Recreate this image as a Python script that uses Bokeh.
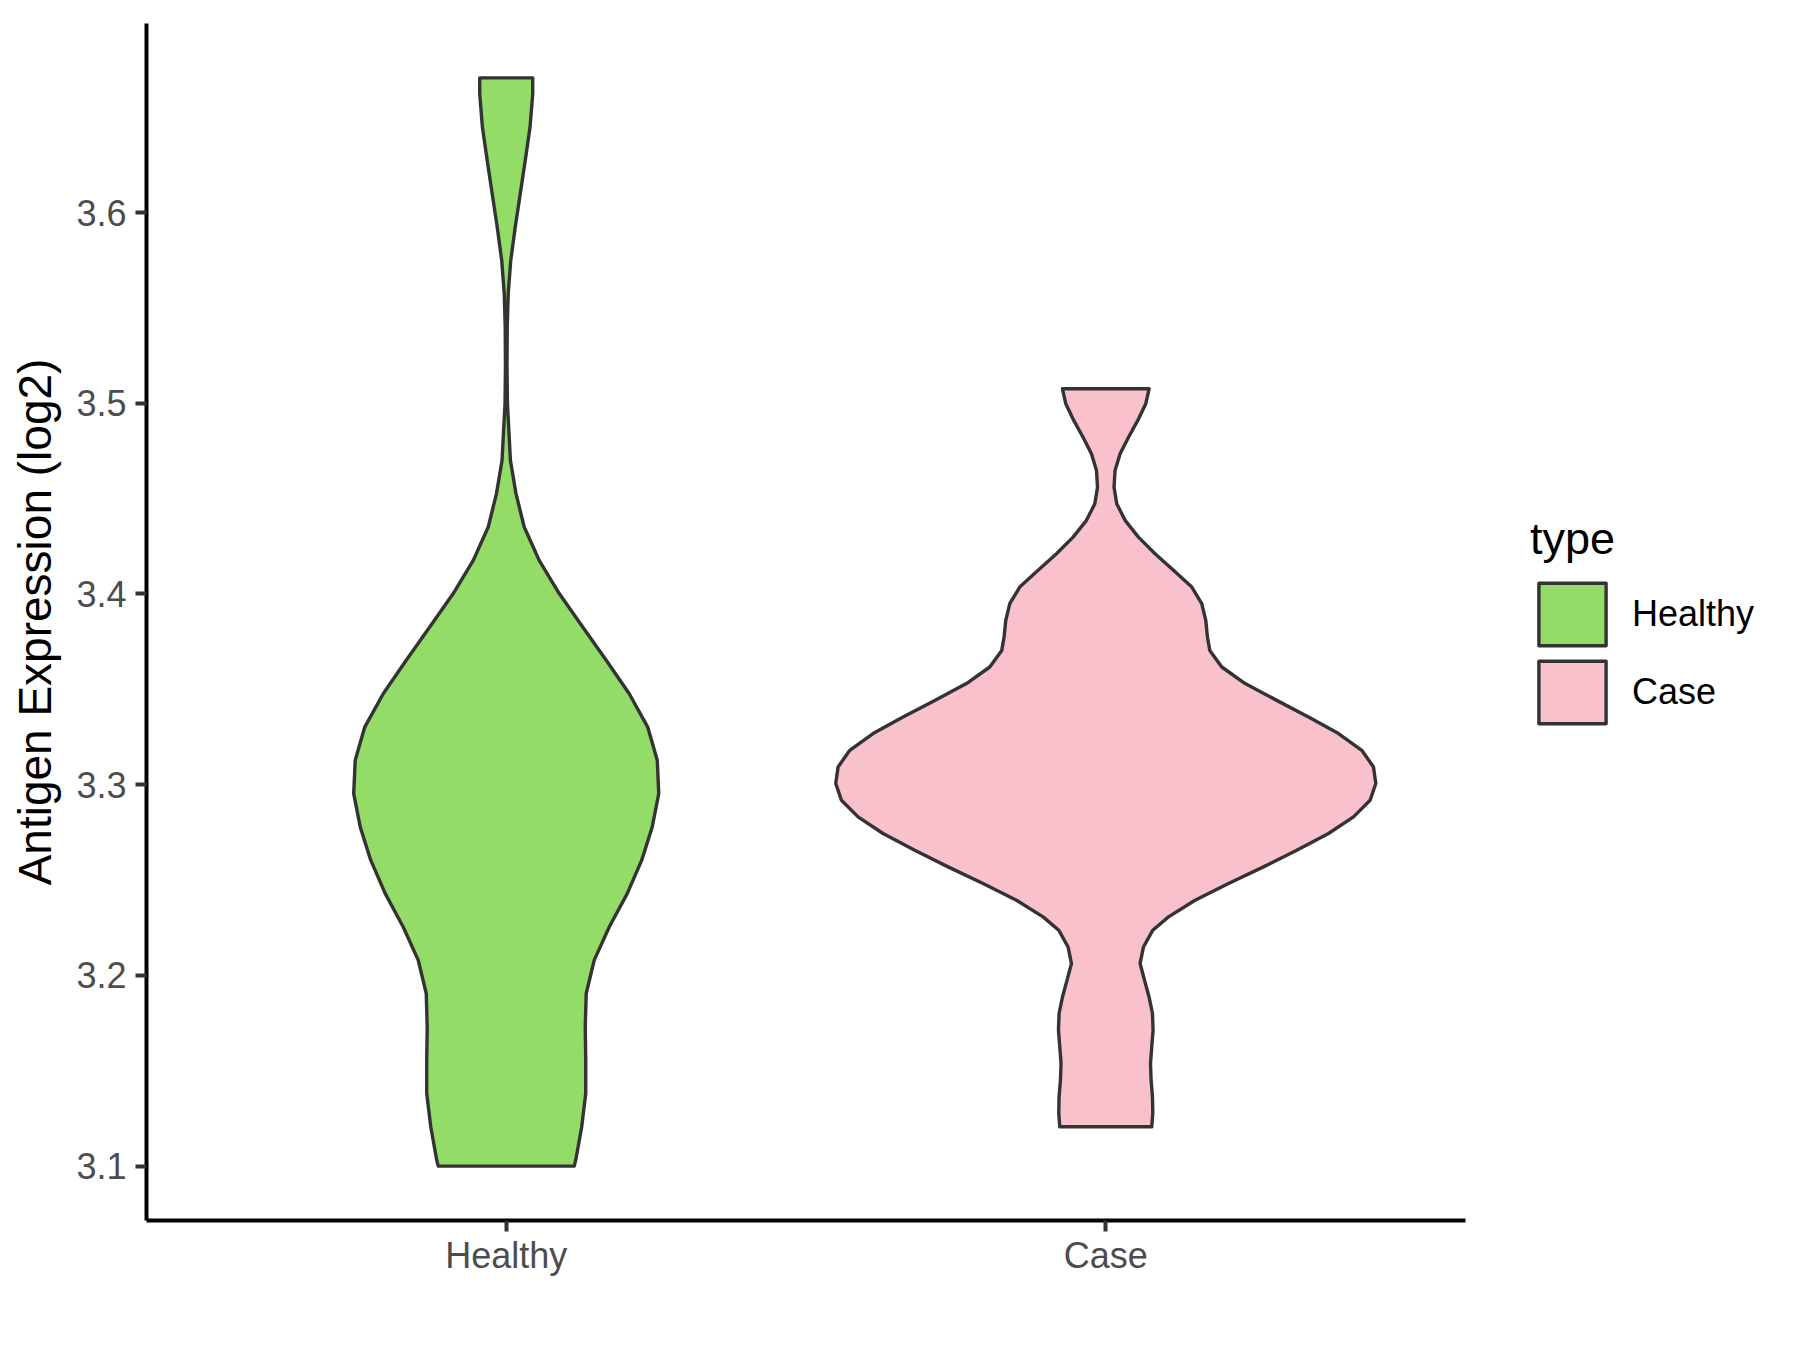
from bokeh.plotting import figure
from bokeh.models import Range1d, FixedTicker, Legend, LegendItem
from bokeh.embed import file_html
from bokeh.resources import INLINE

# ---- data ----
categories = ["Healthy", "Case"]
colors = ["#93DC68", "#F8C1CC"]
y_ticks = [3.1, 3.2, 3.3, 3.4, 3.5, 3.6]

healthy_y = [3.6706, 3.6622, 3.6447, 3.6273, 3.6098, 3.5923, 3.5748, 3.5574, 3.5400,
             3.5200, 3.5000, 3.4850, 3.4700, 3.4526, 3.4351, 3.4176, 3.4002, 3.3827,
             3.3652, 3.3477, 3.3302, 3.3128, 3.2953, 3.2778, 3.2604, 3.2429, 3.2254,
             3.2080, 3.1905, 3.1730, 3.1556, 3.1381, 3.1206, 3.1031, 3.1000]
healthy_w = [0.0442, 0.0442, 0.0397, 0.0317, 0.0234, 0.0150, 0.0075, 0.0033, 0.0017,
             0.0013, 0.0020, 0.0045, 0.0070, 0.0163, 0.0300, 0.0550, 0.0884, 0.1276,
             0.1668, 0.2052, 0.2360, 0.2519, 0.2544, 0.2435, 0.2260, 0.2018, 0.1718,
             0.1468, 0.1334, 0.1318, 0.1326, 0.1326, 0.1259, 0.1159, 0.1134]

case_y = [3.5076, 3.4997, 3.4910, 3.4822, 3.4735, 3.4648, 3.4560, 3.4473, 3.4386,
          3.4298, 3.4211, 3.4124, 3.4036, 3.3949, 3.3862, 3.3774, 3.3704, 3.3617,
          3.3530, 3.3442, 3.3355, 3.3268, 3.3180, 3.3093, 3.3006, 3.2918, 3.2831,
          3.2744, 3.2656, 3.2569, 3.2482, 3.2394, 3.2307, 3.2237, 3.2149, 3.2062,
          3.1975, 3.1887, 3.1800, 3.1713, 3.1625, 3.1538, 3.1451, 3.1363, 3.1276, 3.1206]
case_w = [0.0722, 0.0667, 0.0534, 0.0379, 0.0239, 0.0155, 0.0138, 0.0183, 0.0322,
          0.0545, 0.0822, 0.1129, 0.1435, 0.1601, 0.1668, 0.1696, 0.1735, 0.1935,
          0.2324, 0.2852, 0.3381, 0.3882, 0.4270, 0.4465, 0.4504, 0.4409, 0.4132,
          0.3715, 0.3186, 0.2631, 0.2047, 0.1490, 0.1046, 0.0784, 0.0629, 0.0572,
          0.0646, 0.0722, 0.0779, 0.0789, 0.0767, 0.0746, 0.0756, 0.0779, 0.0784, 0.0767]

profiles = [(healthy_y, healthy_w), (case_y, case_w)]

FONT = "Liberation Sans"

all_y = healthy_y + case_y
ymin, ymax = min(all_y), max(all_y)
pad = 0.05 * (ymax - ymin)

# panel geometry: axis area is 1319 px wide; the frame is extended to the right
# so that the legend sits inside it (x-axis line limited with bounds)
AXIS_W = 1319
FRAME_W = 1638
x0, x1 = 0.4, len(categories) + 0.6
x_end = x0 + (x1 - x0) * FRAME_W / AXIS_W

p = figure(frame_width=FRAME_W, frame_height=1197, output_backend="svg",
           toolbar_location=None,
           x_range=Range1d(x0, x_end),
           y_range=Range1d(ymin - pad, ymax + pad),
           min_border_left=146, min_border_right=0,
           min_border_top=23, min_border_bottom=114)
p.outline_line_color = None
p.xgrid.visible = False
p.ygrid.visible = False
p.background_fill_color = "white"

renderers = []
for i, (ys, ws) in enumerate(profiles):
    c = i + 1
    xs = [c - w for w in ws] + [c + w for w in reversed(ws)]
    yy = list(ys) + list(reversed(ys))
    r = p.patch(xs, yy, fill_color=colors[i], line_color="#333333", line_width=3.4,
                line_join="round")
    renderers.append(r)

# axes
for ax in (p.xaxis[0], p.yaxis[0]):
    ax.axis_line_color = "black"
    ax.axis_line_width = 4
    ax.major_tick_line_color = "#333333"
    ax.major_tick_line_width = 4
    ax.major_tick_in = 0
    ax.major_tick_out = 11
    ax.minor_tick_line_color = None
    ax.major_label_text_font = FONT
    ax.major_label_text_font_size = "36px"
    ax.major_label_text_color = "#4D4D4D"

p.xaxis[0].bounds = (x0, x1)
p.xaxis[0].ticker = FixedTicker(ticks=list(range(1, len(categories) + 1)))
p.xaxis[0].major_label_overrides = {i + 1: c for i, c in enumerate(categories)}
p.xaxis[0].major_label_standoff = 3

p.yaxis[0].ticker = FixedTicker(ticks=y_ticks)
p.yaxis[0].major_label_overrides = {t: f"{t:.1f}" for t in y_ticks}
p.yaxis[0].major_label_standoff = 9
p.yaxis[0].axis_label = "Antigen Expression (log2)"
p.yaxis[0].axis_label_text_font = FONT
p.yaxis[0].axis_label_text_font_size = "46px"
p.yaxis[0].axis_label_text_font_style = "normal"
p.yaxis[0].axis_label_text_color = "black"
p.yaxis[0].axis_label_standoff = 12

legend = Legend(items=[LegendItem(label=c, renderers=[r]) for c, r in zip(categories, renderers)],
                location=(1384, 489),
                title="type",
                title_text_font=FONT, title_text_font_size="45px", title_text_color="black",
                title_text_font_style="normal",
                title_standoff=10,
                label_text_font=FONT, label_text_font_size="36px", label_text_color="black",
                glyph_width=84, glyph_height=78, spacing=0,
                label_standoff=18, padding=0, margin=0,
                border_line_alpha=0, background_fill_alpha=0)
p.add_layout(legend, "center")

open("out.html", "w").write(file_html(p, INLINE))
